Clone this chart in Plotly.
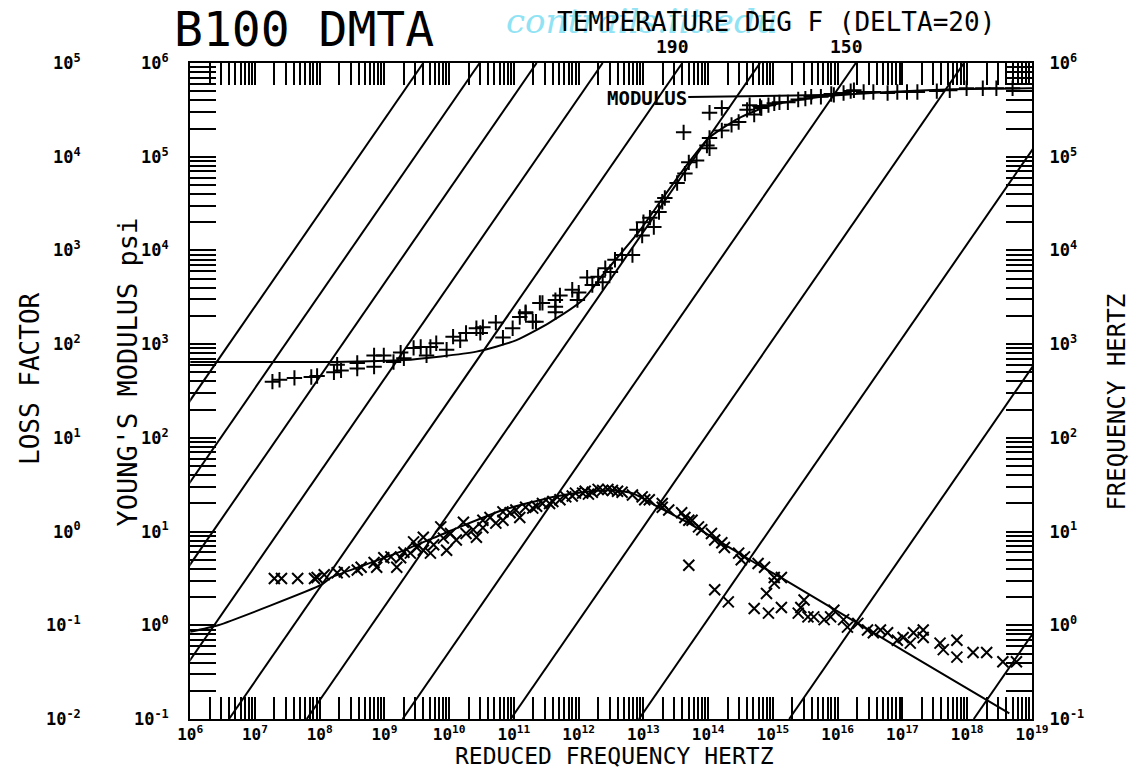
import plotly.graph_objects as go

# ---------------- data ----------------
# isotherm lines of the reduced-frequency nomogram: log10 shift factor per temperature
temps_F = [270, 250, 230, 210, 190, 170, 150, 130, 110, 90, 70]
log_shift = [3.6, 4.47, 5.35, 6.37, 7.6, 8.8, 10.28, 11.95, 13.93, 16.25, 19.1]
labeled_temps = [190, 150]

# Young's modulus master curve (log10 reduced frequency, log10 modulus psi)
mod_fit_logfr = [6.0, 8.22, 9.30, 10.42, 11.03, 11.55, 12.06, 12.41, 12.93, 13.33,
                 13.70, 14.01, 14.47, 14.97, 15.74, 16.77, 17.78, 18.96, 19.0]
mod_fit_logE = [2.81, 2.81, 2.83, 2.92, 3.04, 3.23, 3.47, 3.77, 4.20, 4.59,
                4.94, 5.20, 5.41, 5.55, 5.64, 5.69, 5.72, 5.73, 5.73]

# Young's modulus measured points
mod_data_logfr = [7.27, 7.38, 7.61, 7.87, 7.96, 8.22, 8.33, 8.27, 8.58, 8.58,
                  8.84, 8.84, 8.99, 9.14, 9.25, 9.30, 9.45, 9.56, 9.65, 9.71,
                  9.80, 9.96, 10.06, 10.17, 10.26, 10.42, 10.48, 10.52, 10.72, 10.83,
                  10.98, 11.09, 11.18, 11.29, 11.40, 11.64, 11.64, 11.18, 11.34, 11.44,
                  11.64, 11.71, 11.90, 11.98, 12.13, 12.21, 12.37, 12.41, 12.49, 12.56,
                  12.67, 12.83, 12.90, 12.98, 13.16, 13.24, 13.29, 13.33, 13.52, 13.64,
                  13.70, 13.82, 13.98, 14.02, 14.02, 14.02, 14.21, 14.21, 14.36, 14.47,
                  14.64, 14.71, 14.82, 14.93, 15.02, 15.23, 15.39, 15.59, 15.74, 15.94,
                  16.09, 16.25, 16.40, 16.55, 16.77, 16.92, 17.07, 17.23, 17.53, 17.73,
                  17.99, 18.24, 18.45, 18.70, 13.62, 12.0, 12.3, 13.0, 13.1, 14.6,
                  14.8, 15.1, 15.5, 15.9, 16.2]
mod_data_logE = [2.60, 2.62, 2.64, 2.65, 2.66, 2.70, 2.72, 2.78, 2.80, 2.74,
                 2.76, 2.88, 2.88, 2.81, 2.91, 2.85, 2.96, 2.97, 2.88, 2.97,
                 3.01, 2.94, 3.08, 3.04, 3.12, 3.17, 3.12, 3.18, 3.23, 3.07,
                 3.17, 3.29, 3.33, 3.24, 3.44, 3.40, 3.47, 3.34, 3.24, 3.44,
                 3.34, 3.52, 3.58, 3.47, 3.71, 3.63, 3.66, 3.81, 3.77, 3.90,
                 3.95, 3.95, 4.22, 4.16, 4.25, 4.41, 4.52, 4.56, 4.72, 4.82,
                 4.94, 4.96, 5.12, 5.20, 5.09, 5.47, 5.52, 5.28, 5.34, 5.37,
                 5.55, 5.45, 5.52, 5.55, 5.57, 5.58, 5.61, 5.64, 5.64, 5.66,
                 5.68, 5.71, 5.69, 5.69, 5.68, 5.69, 5.69, 5.69, 5.70, 5.71,
                 5.73, 5.73, 5.73, 5.73, 5.26, 3.55, 3.72, 4.30, 4.35, 5.50,
                 5.54, 5.58, 5.62, 5.67, 5.70]

# loss factor master curve (log10 reduced frequency, log10 loss factor)
loss_fit_logfr = [6.0, 6.43, 8.02, 8.18, 8.68, 9.30, 10.06, 10.83, 11.60, 12.06, 12.47,
                  12.83, 13.18, 13.75, 14.21, 14.71, 15.17, 16.31, 17.84, 18.65]
loss_fit_logeta = [-1.07, -1.0, -0.57, -0.49, -0.36, -0.20, 0.02, 0.23, 0.37, 0.42, 0.44,
                   0.41, 0.28, 0.07, -0.12, -0.33, -0.51, -0.98, -1.61, -1.94]

# loss factor measured points
loss_data_logfr = [7.30, 7.41, 7.66, 7.92, 7.96, 8.07, 8.27, 8.38, 8.58, 8.64,
                   8.84, 8.88, 8.99, 9.10, 9.19, 9.25, 9.30, 9.40, 9.45, 9.50,
                   9.60, 9.60, 9.71, 9.76, 9.87, 9.91, 9.96, 10.02, 10.11, 10.22,
                   10.26, 10.37, 10.42, 10.52, 10.52, 10.63, 10.72, 10.83, 10.83, 10.94,
                   11.03, 11.09, 11.18, 11.29, 11.44, 11.55, 11.71, 11.80, 11.95, 12.06,
                   12.21, 12.37, 12.52, 12.67, 12.83, 12.98, 13.09, 13.29, 13.59, 13.70,
                   13.70, 13.02, 13.29, 13.39, 13.64, 13.75, 13.85, 13.90, 14.05, 14.10,
                   14.21, 14.25, 14.47, 14.51, 14.56, 14.77, 14.87, 15.02, 15.13, 14.10,
                   14.31, 14.71, 14.93, 14.90, 15.02, 15.13, 15.39, 15.43, 15.48, 15.54,
                   15.63, 15.79, 15.89, 15.94, 16.09, 16.15, 16.31, 16.46, 16.55, 16.66,
                   16.77, 16.92, 17.01, 17.12, 17.17, 17.32, 17.32, 17.58, 17.63, 17.84,
                   17.84, 18.09, 18.30, 18.55, 18.76, 11.9, 12.1, 12.3,
                   12.45, 12.6, 12.15, 11.6, 11.35]
loss_data_logeta = [-0.50, -0.50, -0.50, -0.50, -0.49, -0.46, -0.44, -0.43, -0.41, -0.38,
                    -0.33, -0.38, -0.28, -0.27, -0.38, -0.28, -0.22, -0.23, -0.11, -0.17,
                    -0.20, -0.06, -0.23, -0.14, 0.05, -0.07, -0.20, -0.02, -0.09, 0.10,
                    -0.02, 0.02, -0.06, 0.12, 0.04, 0.15, 0.09, 0.12, 0.21, 0.20,
                    0.23, 0.15, 0.26, 0.25, 0.30, 0.30, 0.34, 0.37, 0.41, 0.41,
                    0.42, 0.44, 0.44, 0.42, 0.39, 0.37, 0.34, 0.30, 0.20, 0.12,
                    -0.36, 0.34, 0.26, 0.23, 0.15, 0.12, 0.05, 0.02, -0.02, -0.09,
                    -0.12, -0.17, -0.23, -0.30, -0.27, -0.34, -0.38, -0.49, -0.49, -0.62,
                    -0.75, -0.82, -0.87, -0.66, -0.55, -0.81, -0.87, -0.81, -0.73, -0.91,
                    -0.91, -0.94, -0.91, -0.84, -0.94, -1.02, -0.98, -1.05, -1.08, -1.05,
                    -1.08, -1.16, -1.13, -1.19, -1.08, -1.05, -1.13, -1.19, -1.26, -1.16,
                    -1.34, -1.29, -1.29, -1.39, -1.39, 0.38, 0.43, 0.45,
                    0.45, 0.43, 0.40, 0.32, 0.27]

# axis decades
x_decades = list(range(6, 20))
mod_decades = list(range(-1, 7))
loss_decades = list(range(-2, 6))
freq_decades = list(range(-1, 7))

# ---------------- figure ----------------
FONT = "DejaVu Sans Mono"
BLACK = "black"


def pw(v):
    return [10.0 ** a for a in v]


def minor_vals(lo, hi):
    out = []
    for d in range(lo, hi):
        for m in range(2, 10):
            out.append(m * 10.0 ** d)
    return out


fig = go.Figure()

# isotherms: log f = log fR - log aT, drawn on the frequency axis
for t, s in zip(temps_F, log_shift):
    fig.add_trace(go.Scatter(
        x=[10.0 ** (s + freq_decades[0]), 10.0 ** (s + freq_decades[-1])],
        y=[10.0 ** freq_decades[0], 10.0 ** freq_decades[-1]],
        mode="lines", line=dict(color=BLACK, width=2),
        xaxis="x", yaxis="y3", showlegend=False, hoverinfo="skip", name=f"{t} F"))

fig.add_trace(go.Scatter(
    x=pw(mod_fit_logfr), y=pw(mod_fit_logE), mode="lines",
    line=dict(color=BLACK, width=2, shape="spline", smoothing=0.6),
    xaxis="x", yaxis="y", showlegend=False))
fig.add_trace(go.Scatter(
    x=pw(mod_data_logfr), y=pw(mod_data_logE), mode="markers",
    marker=dict(symbol="cross-thin", size=11, line=dict(color=BLACK, width=2)),
    xaxis="x", yaxis="y", showlegend=False))
fig.add_trace(go.Scatter(
    x=pw(loss_fit_logfr), y=pw(loss_fit_logeta), mode="lines",
    line=dict(color=BLACK, width=2, shape="spline", smoothing=0.5),
    xaxis="x", yaxis="y2", showlegend=False))
fig.add_trace(go.Scatter(
    x=pw(loss_data_logfr), y=pw(loss_data_logeta), mode="markers",
    marker=dict(symbol="x-thin", size=11, line=dict(color=BLACK, width=2)),
    xaxis="x", yaxis="y2", showlegend=False))

W, H = 1133, 772
ML, MR, MT, MB = 20, 101, 63, 53
pw_w = W - ML - MR
ph_h = H - MT - MB
x_dom0 = (186 - ML) / pw_w


def px_x(px):
    return (px - ML) / pw_w


def px_y(py):
    return (H - MB - py) / ph_h


tickfont = dict(family=FONT, size=17, color=BLACK, weight="bold")
xtickfont = dict(family=FONT, size=16, color=BLACK, weight="bold")


def sup_labels(decs):
    return [f"10<sup>{d}</sup>" for d in decs]


fig.update_layout(
    width=W, height=H,
    margin=dict(l=ML, r=MR, t=MT, b=MB),
    paper_bgcolor="white", plot_bgcolor="white",
    showlegend=False,
    xaxis=dict(
        type="log", range=[x_decades[0], x_decades[-1]], domain=[x_dom0, 1],
        anchor="y", tickmode="array", tickvals=pw(x_decades), ticktext=sup_labels(x_decades),
        ticks="inside", ticklen=22, tickwidth=2, tickcolor=BLACK,
        minor=dict(tickmode="array", tickvals=minor_vals(6, 19), ticks="inside",
                   ticklen=22, tickwidth=1.5, tickcolor=BLACK, showgrid=False),
        showline=True, linewidth=2, linecolor=BLACK, mirror="allticks",
        showgrid=False, zeroline=False, tickfont=xtickfont, ticklabelstandoff=0),
    yaxis=dict(
        type="log", range=[mod_decades[0], mod_decades[-1]], domain=[0, 1],
        anchor="x", side="left", tickmode="array", tickvals=pw(mod_decades),
        ticktext=sup_labels(mod_decades),
        ticks="inside", ticklen=26, tickwidth=2, tickcolor=BLACK,
        minor=dict(tickmode="array", tickvals=minor_vals(-1, 6), ticks="inside",
                   ticklen=26, tickwidth=1.5, tickcolor=BLACK, showgrid=False),
        showline=True, linewidth=2, linecolor=BLACK,
        showgrid=False, zeroline=False, tickfont=tickfont, ticklabelstandoff=16),
    yaxis2=dict(
        type="log", range=[loss_decades[0], loss_decades[-1]], overlaying="y",
        anchor="free", position=px_x(76), side="left",
        tickmode="array", tickvals=pw(loss_decades), ticktext=sup_labels(loss_decades),
        ticks="", showline=False, showgrid=False, zeroline=False, tickfont=tickfont),
    yaxis3=dict(
        type="log", range=[freq_decades[0], freq_decades[-1]], overlaying="y",
        anchor="x", side="right", tickmode="array", tickvals=pw(freq_decades),
        ticktext=sup_labels(freq_decades),
        ticks="inside", ticklen=26, tickwidth=2, tickcolor=BLACK,
        minor=dict(tickmode="array", tickvals=minor_vals(-1, 6), ticks="inside",
                   ticklen=26, tickwidth=1.5, tickcolor=BLACK, showgrid=False),
        showline=True, linewidth=2, linecolor=BLACK,
        showgrid=False, zeroline=False, tickfont=tickfont, ticklabelstandoff=12),
)

ann = []
ann.append(dict(text="B100 DMTA", x=px_x(300), y=px_y(29), xref="paper", yref="paper",
                showarrow=False, font=dict(family=FONT, size=48, color=BLACK),
                xanchor="center", yanchor="middle"))
ann.append(dict(text="contrails.iit.edu", x=px_x(640), y=px_y(21), xref="paper", yref="paper",
                showarrow=False, font=dict(family="DejaVu Serif", size=34, color="#8fe3f4",
                                           style="italic"),
                xanchor="center", yanchor="middle"))
ann.append(dict(text="TEMPERATURE DEG F (DELTA=20)", x=px_x(775), y=px_y(22),
                xref="paper", yref="paper", showarrow=False,
                font=dict(family=FONT, size=26, color=BLACK), xanchor="center", yanchor="middle"))
for t, s in zip(temps_F, log_shift):
    if t in labeled_temps:
        ann.append(dict(text=str(t), x=s + mod_decades[-1] - 0.15, y=px_y(46), xref="x",
                        yref="paper", showarrow=False,
                        font=dict(family=FONT, size=18, color=BLACK, weight="bold"),
                        xanchor="center", yanchor="middle"))
ann.append(dict(text="MODULUS", x=16.0, y=5.66, xref="x", yref="y",
                ax=13.05, ay=5.63, axref="x", ayref="y", showarrow=True, arrowhead=0,
                arrowwidth=2, arrowcolor=BLACK,
                font=dict(family=FONT, size=19, color=BLACK, weight="bold")))
ann.append(dict(text="LOSS FACTOR", x=px_x(25), y=px_y(378), xref="paper", yref="paper",
                showarrow=False, textangle=-90, font=dict(family=FONT, size=26, color=BLACK),
                xanchor="center", yanchor="middle"))
ann.append(dict(text="YOUNG'S MODULUS psi", x=px_x(123), y=px_y(372), xref="paper",
                yref="paper", showarrow=False, textangle=-90,
                font=dict(family=FONT, size=27, color=BLACK), xanchor="center", yanchor="middle"))
ann.append(dict(text="FREQUENCY HERTZ", x=px_x(1117), y=px_y(402), xref="paper",
                yref="paper", showarrow=False, textangle=-90,
                font=dict(family=FONT, size=24, color=BLACK), xanchor="center", yanchor="middle"))
ann.append(dict(text="REDUCED FREQUENCY HERTZ", x=px_x(612), y=px_y(771), xref="paper",
                yref="paper", showarrow=False,
                font=dict(family=FONT, size=23, color=BLACK), xanchor="center", yanchor="bottom"))
fig.update_layout(annotations=ann)

fig.write_html("out.html")
